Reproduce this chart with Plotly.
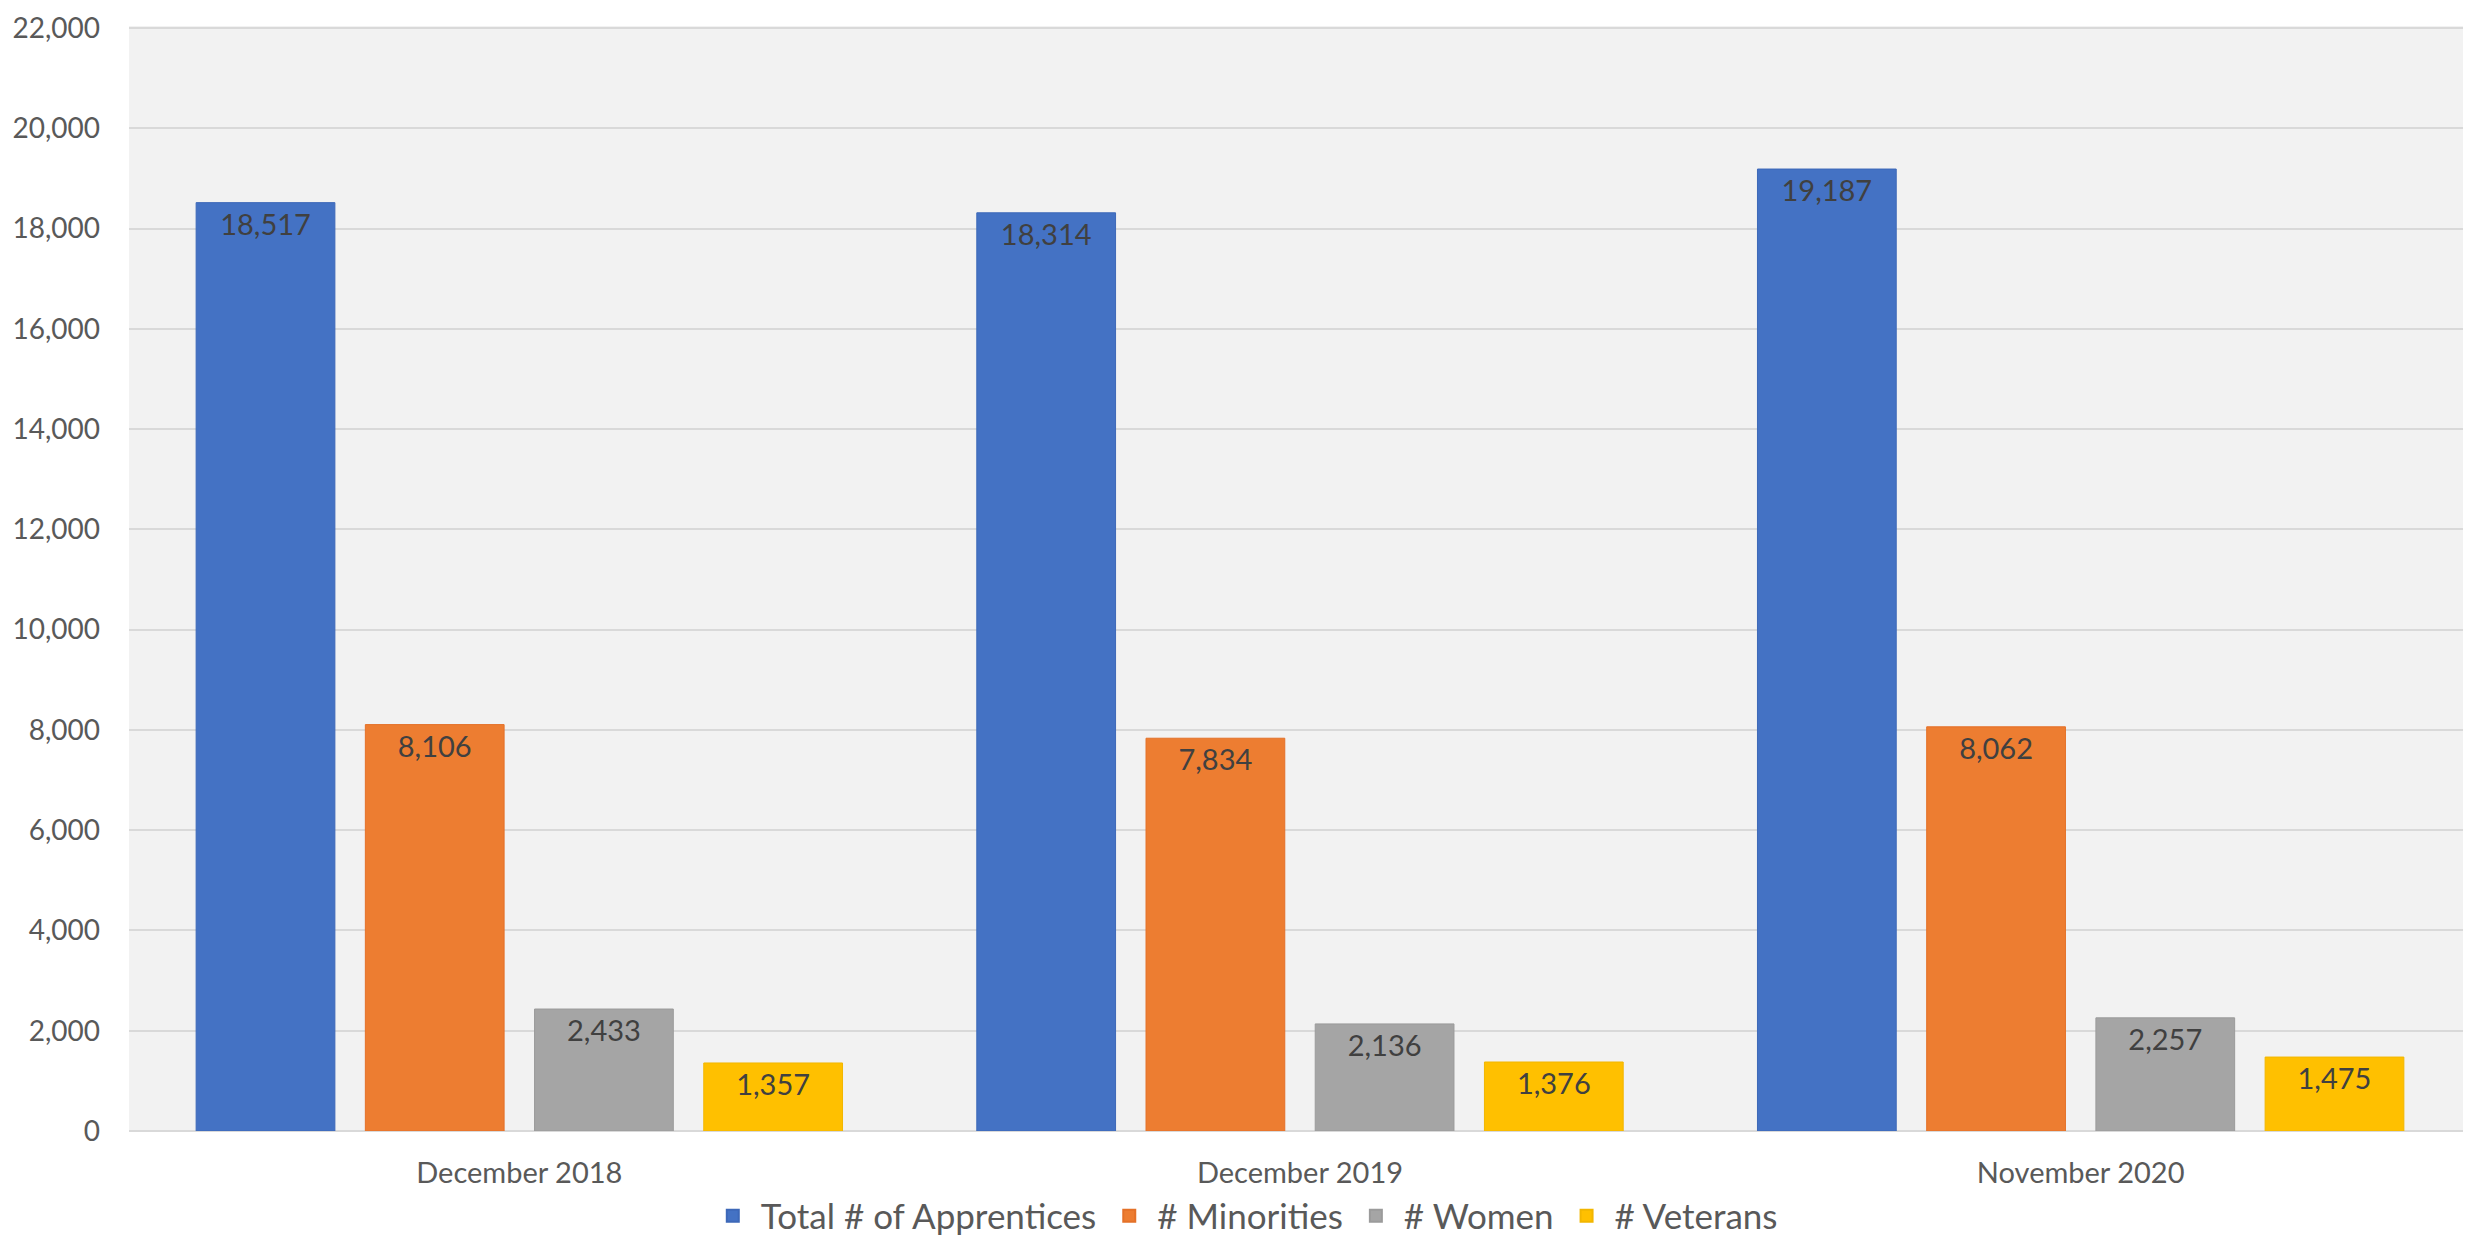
import plotly.graph_objects as go

categories = ["December 2018", "December 2019", "November 2020"]
series_names = ["Total # of Apprentices", "# Minorities", "# Women", "# Veterans"]
total_apprentices = [18517, 18314, 19187]
minorities = [8106, 7834, 8062]
women = [2433, 2136, 2257]
veterans = [1357, 1376, 1475]
y_ticks = list(range(0, 22001, 2000))

colors = ["#4472C4", "#ED7D31", "#A5A5A5", "#FFC000"]
line_colors = ["#3D68B8", "#E47128", "#9B9B9B", "#F2B600"]
values = [total_apprentices, minorities, women, veterans]

FONT = "Lato"

fig = go.Figure()
for name, vals, c, lc in zip(series_names, values, colors, line_colors):
    fig.add_trace(go.Bar(
        name=name,
        x=categories,
        y=vals,
        marker=dict(color=c, line=dict(color=lc, width=1)),
        text=[f"{v:,}" for v in vals],
        textposition="inside",
        insidetextanchor="end",
        textangle=0,
        textfont=dict(family=FONT, size=29, color="#404040"),
        cliponaxis=False,
    ))

fig.update_layout(
    width=2471,
    height=1239,
    barmode="group",
    bargap=0.133,
    bargroupgap=0.18,
    paper_bgcolor="#FFFFFF",
    plot_bgcolor="#F2F2F2",
    margin=dict(l=121, r=8, t=18, b=116, autoexpand=False),
    font=dict(family=FONT, color="#595959"),
    legend=dict(
        orientation="h",
        x=0.476,
        xanchor="center",
        y=-0.077,
        yanchor="middle",
        font=dict(family=FONT, size=35, color="#595959"),
        bgcolor="rgba(0,0,0,0)",
        itemsizing="constant",
        itemwidth=46,
    ),
    showlegend=True,
)

fig.update_yaxes(
    range=[0, 22040],
    tickvals=y_ticks,
    tickformat=",",
    showgrid=True,
    gridcolor="#D9D9D9",
    gridwidth=2,
    zeroline=True,
    zerolinecolor="#D9D9D9",
    zerolinewidth=2,
    tickfont=dict(family=FONT, size=28, color="#595959"),
    ticklabelstandoff=28,
    ticklabeloverflow="allow",
    showline=False,
    automargin=False,
)
fig.update_xaxes(
    showgrid=False,
    tickfont=dict(family=FONT, size=29, color="#595959"),
    ticklabelstandoff=22,
    showline=False,
    automargin=False,
)

fig.write_html("out.html")
